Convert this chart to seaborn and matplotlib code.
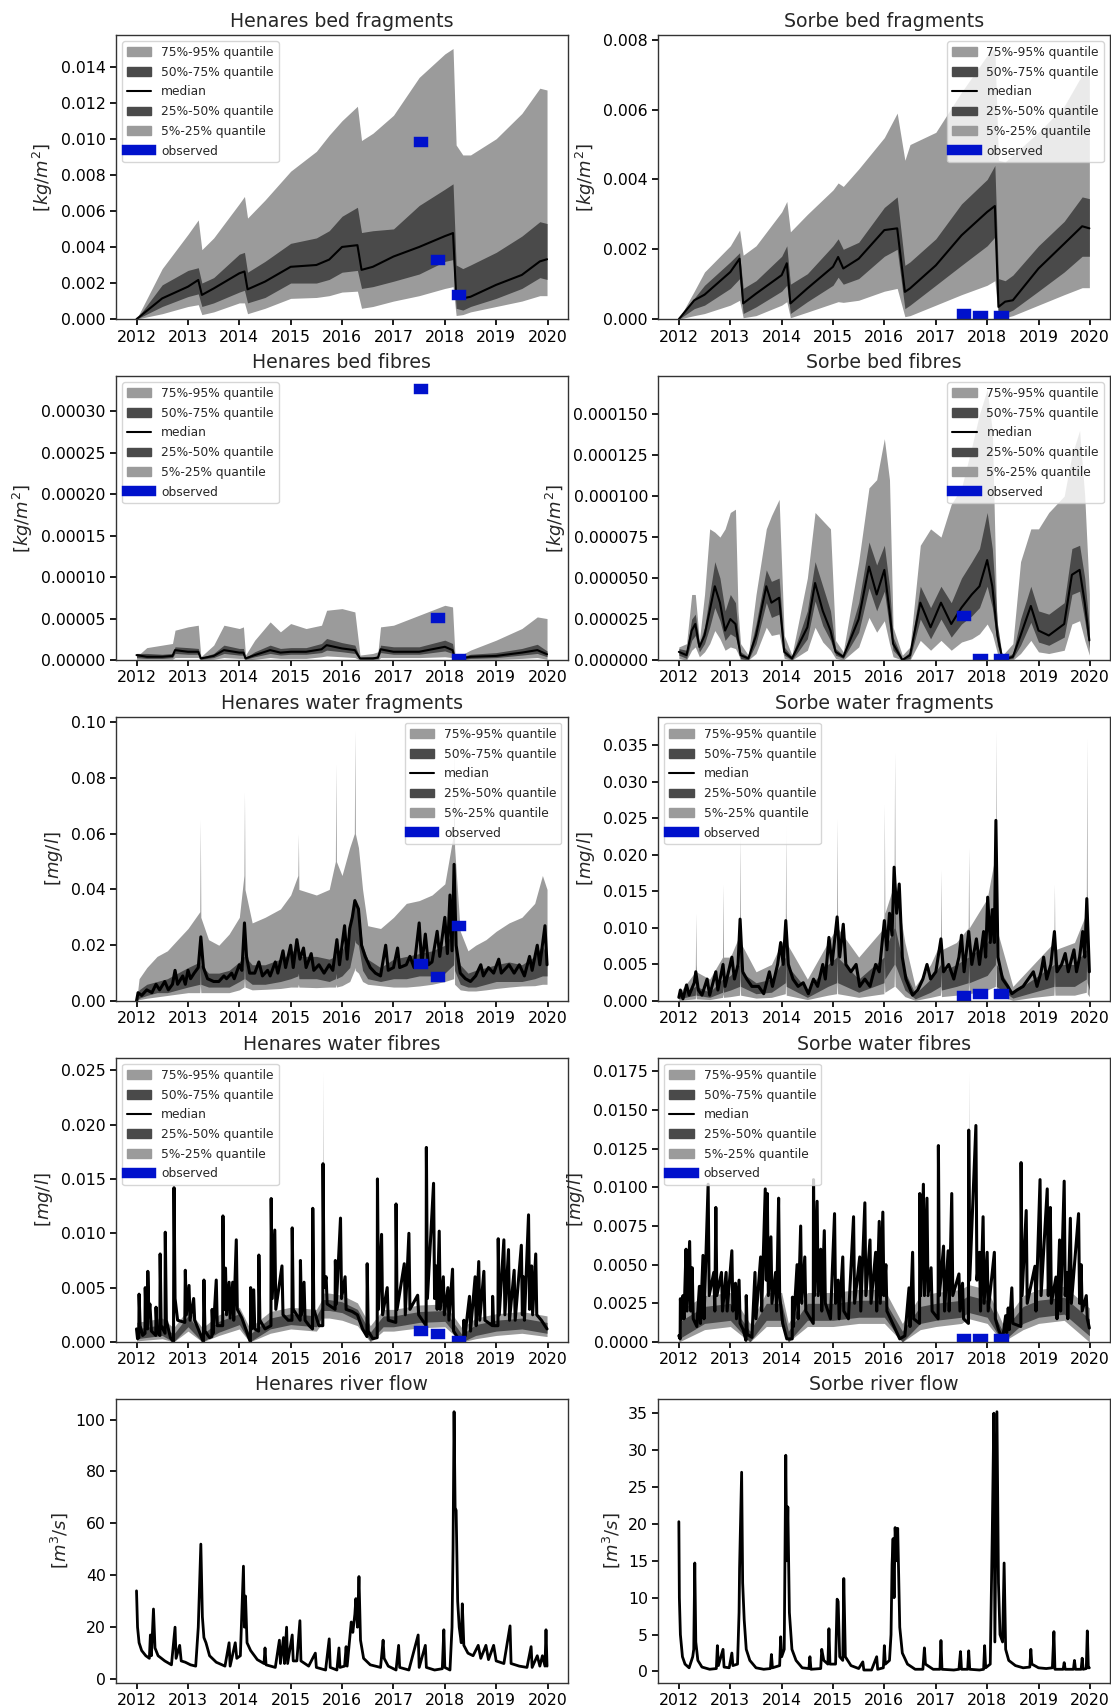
import numpy as np
import pandas as pd
import matplotlib
matplotlib.use("Agg")
import matplotlib.pyplot as plt
import matplotlib.dates as mdates
from matplotlib.ticker import MaxNLocator
from matplotlib.patches import Patch
from matplotlib.lines import Line2D
import seaborn as sns

# ---------------- data (decimal years) ----------------
obs_start = [2017.50, 2017.83, 2018.24]
obs_end = [2017.58, 2017.91, 2018.32]

# Henares bed fragments
hbfr_t = [2012.0, 2012.5, 2013.0, 2013.2, 2013.27, 2013.5, 2014.0, 2014.1, 2014.16, 2014.5,
          2015.0, 2015.5, 2015.75, 2016.0, 2016.3, 2016.38, 2016.6, 2017.0, 2017.5, 2018.0,
          2018.16, 2018.22, 2018.35, 2018.5, 2019.0, 2019.5, 2019.85, 2019.99]
hbfr_q50 = [0, 0.00115, 0.0018, 0.00217, 0.00134, 0.0017, 0.00254, 0.00264, 0.00165, 0.00208,
            0.0029, 0.003, 0.0033, 0.004, 0.0041, 0.00273, 0.0029, 0.00347, 0.004, 0.0046,
            0.00477, 0.0013, 0.00115, 0.00124, 0.0019, 0.00245, 0.0032, 0.00332]
hbfr_q95 = [0, 0.0028, 0.0047, 0.0055, 0.00385, 0.0045, 0.0064, 0.0068, 0.0056, 0.0066,
            0.0082, 0.0093, 0.0102, 0.011, 0.0118, 0.0099, 0.0103, 0.0113, 0.0134, 0.0147,
            0.015, 0.00965, 0.0091, 0.0091, 0.01, 0.0114, 0.0128, 0.0127]
hbfr_q75 = [0, 0.0019, 0.0027, 0.00285, 0.002, 0.0023, 0.0036, 0.0037, 0.0026, 0.0032,
            0.0042, 0.0045, 0.0049, 0.0057, 0.0062, 0.0048, 0.0049, 0.005, 0.0063, 0.0072,
            0.0075, 0.003, 0.0028, 0.003, 0.0037, 0.0046, 0.0054, 0.0053]
hbfr_q25 = [0, 0.0007, 0.00125, 0.0014, 0.0007, 0.0009, 0.0015, 0.0016, 0.0009, 0.0012,
            0.002, 0.002, 0.0022, 0.0026, 0.0027, 0.0017, 0.0018, 0.0021, 0.0025, 0.0032,
            0.0033, 0.0006, 0.0005, 0.0007, 0.00115, 0.0017, 0.0023, 0.0022]
hbfr_q05 = [0, 0.0003, 0.0007, 0.0008, 0.00025, 0.0004, 0.0009, 0.0009, 0.0003, 0.0006,
            0.00115, 0.0012, 0.0013, 0.0015, 0.00155, 0.0006, 0.0007, 0.001, 0.0013, 0.0017,
            0.0018, 0.0002, 0.00025, 0.0004, 0.0007, 0.001, 0.0013, 0.0013]
hbfr_obs = [0.0098, 0.0033, 0.00135]

# Sorbe bed fragments
sbfr_t = [2012.0, 2012.3, 2012.5, 2013.0, 2013.18, 2013.25, 2013.5, 2014.0, 2014.1, 2014.17,
          2014.5, 2015.0, 2015.1, 2015.2, 2015.5, 2016.0, 2016.25, 2016.4, 2016.5, 2017.0,
          2017.5, 2018.0, 2018.15, 2018.22, 2018.35, 2018.5, 2019.0, 2019.5, 2019.85, 2019.99]
sbfr_q50 = [0, 0.00054, 0.0007, 0.00135, 0.00173, 0.00045, 0.00073, 0.00126, 0.0016, 0.00045,
            0.00088, 0.0015, 0.00178, 0.00145, 0.00173, 0.00255, 0.0026, 0.00078, 0.00088, 0.00154,
            0.0024, 0.00307, 0.00324, 0.00035, 0.0005, 0.00054, 0.00145, 0.00216, 0.00266, 0.0026]
sbfr_q95 = [0, 0.0008, 0.00135, 0.0021, 0.00255, 0.00183, 0.0021, 0.00307, 0.00337, 0.0025,
            0.003, 0.0037, 0.0039, 0.0038, 0.0043, 0.0052, 0.0059, 0.00455, 0.005, 0.00535,
            0.0065, 0.00755, 0.00775, 0.00455, 0.0045, 0.0047, 0.00535, 0.0061, 0.007, 0.00703]
sbfr_q75 = [0, 0.0006, 0.00097, 0.00164, 0.0019, 0.00088, 0.0011, 0.0018, 0.0021, 0.001,
            0.0013, 0.0021, 0.0023, 0.002, 0.0022, 0.0032, 0.0035, 0.00154, 0.00164, 0.0023,
            0.0033, 0.004, 0.0044, 0.00116, 0.0011, 0.00126, 0.0021, 0.0028, 0.0035, 0.00345]
sbfr_q25 = [0, 0.0003, 0.0004, 0.00088, 0.00116, 0.00016, 0.00035, 0.0008, 0.00097, 0.00016,
            0.0005, 0.00097, 0.0012, 0.001, 0.00116, 0.0018, 0.002, 0.0003, 0.0004, 0.00097,
            0.00154, 0.0021, 0.00235, 0.0001, 0.00016, 0.00026, 0.0008, 0.00135, 0.0018, 0.0018]
sbfr_q05 = [0, 0.0001, 0.00016, 0.0004, 0.00054, 0.00004, 0.0001, 0.0004, 0.0005, 0.00004,
            0.0002, 0.00045, 0.0005, 0.00048, 0.00054, 0.0008, 0.00088, 0.00007, 0.0001, 0.0004,
            0.0007, 0.00097, 0.0011, 0.00002, 0.00004, 0.0001, 0.0004, 0.0007, 0.0009, 0.0009]
sbfr_obs = [0.00015, 0.0001, 0.0001]

# Henares bed fibres
hbfi_t = [2012.0, 2012.2, 2012.5, 2012.7, 2012.75, 2013.0, 2013.2, 2013.25, 2013.5, 2013.7,
          2014.0, 2014.08, 2014.12, 2014.3, 2014.6, 2014.8, 2015.0, 2015.3, 2015.6, 2015.7,
          2016.0, 2016.25, 2016.35, 2016.6, 2016.7, 2016.75, 2017.0, 2017.5, 2018.0, 2018.15,
          2018.2, 2018.5, 2019.0, 2019.5, 2019.8, 2019.99]
hbfi_q95 = [0.000004, 0.000015, 0.000018, 0.00002, 0.000036, 0.00004, 0.000042, 0.000004, 0.000018, 0.000042,
            0.000038, 0.00004, 0.000006, 0.000024, 0.000046, 0.000034, 0.000044, 0.000038, 0.000042, 0.00006,
            0.000062, 0.000058, 0.000006, 0.000008, 0.00001, 0.00004, 0.000042, 0.000054, 0.000066, 0.000064,
            0.000002, 0.000012, 0.000024, 0.000038, 0.000052, 0.00005]
hbfi_q75 = [0.000008, 0.000008, 0.000007, 0.000008, 0.000016, 0.000015, 0.000014, 0.000003, 0.000008, 0.000018,
            0.000014, 0.000014, 0.000003, 0.00001, 0.000018, 0.000014, 0.000015, 0.000015, 0.00002, 0.000026,
            0.000021, 0.000018, 0.000003, 0.000004, 0.000005, 0.000018, 0.000016, 0.000016, 0.000024, 0.00002,
            0.000002, 0.000007, 0.000009, 0.000014, 0.000019, 0.000011]
hbfi_q50 = [0.000006, 0.000004, 0.000004, 0.000005, 0.000012, 0.00001, 0.00001, 0.000002, 0.000005, 0.000012,
            0.000009, 0.000009, 0.000002, 0.000006, 0.000012, 0.000009, 0.00001, 0.00001, 0.000013, 0.000018,
            0.000014, 0.000012, 0.000002, 0.000002, 0.000003, 0.000013, 0.00001, 0.00001, 0.000016, 0.000012,
            0.000001, 0.000004, 0.000005, 0.000009, 0.000012, 0.000007]
hbfi_q25 = [0.000003, 0.000002, 0.000002, 0.000003, 0.000008, 0.000007, 0.000007, 0.000001, 0.000003, 0.000008,
            0.000006, 0.000006, 0.000001, 0.000004, 0.000008, 0.000006, 0.000007, 0.000007, 0.000009, 0.000012,
            0.00001, 0.000008, 0.000001, 0.000001, 0.000002, 0.000009, 0.000007, 0.000007, 0.000011, 0.000008,
            0.0, 0.000002, 0.000003, 0.000006, 0.000008, 0.000004]
hbfi_q05 = [0.000001, 0.000001, 0.000001, 0.000001, 0.000003, 0.000003, 0.000003, 0.0, 0.000001, 0.000003,
            0.000002, 0.000002, 0.0, 0.000001, 0.000003, 0.000002, 0.000002, 0.000002, 0.000004, 0.000005,
            0.000004, 0.000003, 0.0, 0.0, 0.0, 0.000003, 0.000003, 0.000003, 0.000004, 0.000003,
            0.0, 0.000001, 0.000001, 0.000002, 0.000003, 0.000001]
hbfi_obs = [0.000326, 0.000051, 0.000001]

# Sorbe bed fibres
sbfi_t = [2012.0, 2012.15, 2012.25, 2012.32, 2012.4, 2012.5, 2012.6, 2012.7, 2012.8, 2012.9,
          2013.0, 2013.1, 2013.15, 2013.2, 2013.35, 2013.5, 2013.7, 2013.8, 2013.95,
          2014.05, 2014.2, 2014.5, 2014.65, 2014.8, 2014.95,
          2015.05, 2015.2, 2015.5, 2015.7, 2015.85,
          2016.0, 2016.1, 2016.17, 2016.35, 2016.5, 2016.7, 2016.9,
          2017.1, 2017.3, 2017.5, 2017.7, 2017.85,
          2018.0, 2018.1, 2018.2, 2018.3, 2018.5, 2018.65, 2018.85,
          2019.0, 2019.2, 2019.5, 2019.65, 2019.8, 2019.9, 2019.99]
sbfi_q50 = [0.000005, 0.000003, 0.000018, 0.000022, 0.000008, 0.000015, 0.00003, 0.000045, 0.000035, 0.000018,
            0.000025, 0.000022, 0.000012, 0.000003, 0.000001, 0.000015, 0.000045, 0.000035, 0.000038,
            0.000005, 0.000001, 0.00002, 0.000047, 0.00003, 0.000018,
            0.000005, 0.000002, 0.000025, 0.000057, 0.00004,
            0.000055, 0.00003, 0.00001, 0.0, 0.000003, 0.000035, 0.00002,
            0.000035, 0.000022, 0.000032, 0.00004, 0.000045,
            0.000061, 0.000045, 0.000015, 0.0, 0.000002, 0.000015, 0.000033,
            0.000018, 0.000015, 0.000022, 0.000052, 0.000055, 0.000035, 0.000012]
sbfi_q95 = [0.000008, 0.00001, 0.00004, 0.00004, 0.000012, 0.00004, 0.00008, 0.000078, 0.000075, 0.00008,
            0.00009, 0.000092, 0.00003, 0.00001, 0.000003, 0.00004, 0.00008, 0.000088, 0.000098,
            0.000015, 0.000003, 0.00005, 0.00009, 0.000085, 0.00008,
            0.000012, 0.000005, 0.00006, 0.000105, 0.00011,
            0.000135, 0.00011, 0.00002, 0.000003, 0.000008, 0.00007, 0.00008,
            0.000075, 0.000095, 0.000105, 0.00013, 0.00015,
            0.000165, 0.00014, 0.00001, 0.000003, 0.00001, 0.00006, 0.00008,
            0.00008, 0.00009, 0.0001, 0.000125, 0.00014, 0.0001, 0.00004]
sbfi_q75 = [0.000007, 0.000006, 0.000025, 0.000028, 0.00001, 0.00002, 0.00004, 0.00006, 0.00005, 0.00003,
            0.00004, 0.000035, 0.000018, 0.000005, 0.000002, 0.000022, 0.000055, 0.000048, 0.00005,
            0.000008, 0.000002, 0.00003, 0.00006, 0.000045, 0.00003,
            0.000007, 0.000003, 0.000035, 0.000072, 0.000058,
            0.00007, 0.000045, 0.000014, 0.000001, 0.000005, 0.000045, 0.000032,
            0.000045, 0.000035, 0.00005, 0.00006, 0.000068,
            0.00009, 0.000068, 0.000022, 0.000001, 0.000004, 0.000025, 0.000045,
            0.00003, 0.000028, 0.000035, 0.000068, 0.00007, 0.00005, 0.00002]
sbfi_q25 = [0.000003, 0.000001, 0.000012, 0.000015, 0.000005, 0.00001, 0.00002, 0.000032, 0.000024, 0.000012,
            0.000016, 0.000014, 0.000008, 0.000001, 0.0, 0.00001, 0.000035, 0.000026, 0.000028,
            0.000003, 0.0, 0.000013, 0.000036, 0.000021, 0.000012,
            0.000003, 0.000001, 0.000017, 0.000044, 0.00003,
            0.000042, 0.00002, 0.000006, 0.0, 0.000001, 0.000025, 0.000013,
            0.000025, 0.000014, 0.000022, 0.000027, 0.000032,
            0.000045, 0.000032, 0.000009, 0.0, 0.000001, 0.000009, 0.000023,
            0.000011, 0.000009, 0.000014, 0.00004, 0.000042, 0.000024, 0.000007]
sbfi_q05 = [0.000001, 0.0, 0.000006, 0.000008, 0.000002, 0.000005, 0.00001, 0.000018, 0.000013, 0.000006,
            0.000008, 0.000007, 0.000004, 0.0, 0.0, 0.000004, 0.00002, 0.000015, 0.000016,
            0.000001, 0.0, 0.000006, 0.00002, 0.000011, 0.000006,
            0.000001, 0.0, 0.000008, 0.000026, 0.000017,
            0.000024, 0.00001, 0.000002, 0.0, 0.0, 0.000012, 0.000006,
            0.000012, 0.000006, 0.000011, 0.000013, 0.000016,
            0.000022, 0.000016, 0.000004, 0.0, 0.0, 0.000004, 0.000012,
            0.000005, 0.000004, 0.000006, 0.000022, 0.000024, 0.000012, 0.000003]
sbfi_obs = [0.0000266, 0.0000005, 0.0000005]

# Henares water fragments
hwfr_t = [2012.0, 2012.05, 2012.2, 2012.4, 2012.6, 2012.8, 2013.0, 2013.23, 2013.24, 2013.25,
          2013.4, 2013.6, 2013.8, 2014.0, 2014.09, 2014.1, 2014.11, 2014.25, 2014.5, 2014.8,
          2015.0, 2015.14, 2015.15, 2015.16, 2015.5, 2015.75, 2015.87, 2015.88, 2015.89, 2016.0,
          2016.15, 2016.24, 2016.25, 2016.26, 2016.32, 2016.4, 2016.5, 2016.75, 2017.0, 2017.25,
          2017.5, 2017.75, 2018.0, 2018.17, 2018.18, 2018.19, 2018.3, 2018.45, 2018.6, 2018.8,
          2019.0, 2019.25, 2019.5, 2019.75, 2019.9, 2019.99]
hwfr_q95 = [0, 0.008, 0.012, 0.016, 0.018, 0.022, 0.026, 0.032, 0.065, 0.03,
            0.022, 0.02, 0.024, 0.03, 0.045, 0.075, 0.04, 0.028, 0.03, 0.033,
            0.038, 0.045, 0.06, 0.04, 0.038, 0.04, 0.05, 0.085, 0.05, 0.045,
            0.055, 0.06, 0.097, 0.06, 0.055, 0.04, 0.027, 0.026, 0.03, 0.035,
            0.036, 0.038, 0.042, 0.06, 0.092, 0.055, 0.025, 0.018, 0.02, 0.022,
            0.025, 0.028, 0.03, 0.035, 0.045, 0.04]
hwfr_q75 = [0, 0.004, 0.006, 0.007, 0.008, 0.01, 0.012, 0.014, 0.024, 0.013,
            0.01, 0.01, 0.011, 0.014, 0.016, 0.028, 0.016, 0.013, 0.013, 0.015,
            0.017, 0.02, 0.02, 0.016, 0.016, 0.015, 0.016, 0.02, 0.016, 0.018,
            0.025, 0.035, 0.037, 0.036, 0.033, 0.02, 0.015, 0.012, 0.015, 0.016,
            0.017, 0.018, 0.02, 0.025, 0.05, 0.022, 0.013, 0.01, 0.011, 0.012,
            0.013, 0.014, 0.013, 0.016, 0.02, 0.016]
hwfr_q25 = [0, 0.001, 0.002, 0.003, 0.003, 0.004, 0.005, 0.006, 0.012, 0.006,
            0.005, 0.005, 0.005, 0.007, 0.008, 0.015, 0.008, 0.006, 0.006, 0.007,
            0.008, 0.009, 0.01, 0.008, 0.008, 0.007, 0.008, 0.01, 0.008, 0.009,
            0.012, 0.02, 0.022, 0.021, 0.02, 0.011, 0.008, 0.007, 0.008, 0.008,
            0.009, 0.009, 0.01, 0.013, 0.03, 0.011, 0.006, 0.005, 0.005, 0.006,
            0.007, 0.007, 0.007, 0.008, 0.009, 0.009]
hwfr_q05 = [0, 0.0005, 0.001, 0.0015, 0.002, 0.0025, 0.003, 0.003, 0.006, 0.003,
            0.003, 0.003, 0.003, 0.004, 0.005, 0.008, 0.005, 0.004, 0.0042, 0.0045,
            0.005, 0.005, 0.006, 0.005, 0.0048, 0.005, 0.005, 0.006, 0.005, 0.0055,
            0.007, 0.011, 0.012, 0.011, 0.01, 0.007, 0.006, 0.0055, 0.005, 0.005,
            0.0054, 0.006, 0.007, 0.008, 0.015, 0.006, 0.004, 0.0036, 0.0036, 0.004,
            0.0045, 0.005, 0.0054, 0.0055, 0.006, 0.006]
hwfr_median = [
    (2012.0, 0.0), (2012.03, 0.003), (2012.1, 0.002), (2012.2, 0.004), (2012.3, 0.003),
    (2012.38, 0.006), (2012.45, 0.004), (2012.55, 0.007), (2012.62, 0.004), (2012.7, 0.006),
    (2012.75, 0.011), (2012.8, 0.006), (2012.9, 0.009), (2012.95, 0.006), (2013.0, 0.011),
    (2013.05, 0.008), (2013.12, 0.01), (2013.2, 0.012), (2013.25, 0.023), (2013.3, 0.012),
    (2013.38, 0.008), (2013.5, 0.007), (2013.6, 0.007), (2013.7, 0.009), (2013.75, 0.008),
    (2013.85, 0.01), (2013.9, 0.008), (2014.0, 0.013), (2014.05, 0.011), (2014.1, 0.028),
    (2014.14, 0.016), (2014.2, 0.01), (2014.3, 0.01), (2014.38, 0.014), (2014.45, 0.009),
    (2014.55, 0.011), (2014.6, 0.009), (2014.7, 0.014), (2014.75, 0.01), (2014.85, 0.018),
    (2014.9, 0.012), (2015.0, 0.02), (2015.05, 0.012), (2015.12, 0.022), (2015.18, 0.015),
    (2015.25, 0.019), (2015.3, 0.012), (2015.4, 0.017), (2015.45, 0.011), (2015.55, 0.013),
    (2015.65, 0.01), (2015.75, 0.013), (2015.82, 0.011), (2015.9, 0.022), (2015.95, 0.013),
    (2016.05, 0.027), (2016.1, 0.015), (2016.15, 0.026), (2016.2, 0.03), (2016.25, 0.036),
    (2016.32, 0.033), (2016.38, 0.02), (2016.45, 0.016), (2016.55, 0.012), (2016.65, 0.01),
    (2016.75, 0.009), (2016.85, 0.02), (2016.9, 0.011), (2017.0, 0.012), (2017.08, 0.019),
    (2017.12, 0.012), (2017.25, 0.013), (2017.32, 0.016), (2017.4, 0.012), (2017.5, 0.028),
    (2017.55, 0.013), (2017.62, 0.024), (2017.68, 0.013), (2017.75, 0.014), (2017.85, 0.025),
    (2017.9, 0.016), (2018.0, 0.03), (2018.05, 0.017), (2018.1, 0.038), (2018.14, 0.018),
    (2018.18, 0.049), (2018.22, 0.02), (2018.3, 0.01), (2018.4, 0.008), (2018.5, 0.007),
    (2018.6, 0.009), (2018.7, 0.013), (2018.75, 0.009), (2018.85, 0.012), (2018.95, 0.01),
    (2019.05, 0.015), (2019.1, 0.01), (2019.25, 0.013), (2019.35, 0.01), (2019.45, 0.013),
    (2019.55, 0.009), (2019.65, 0.016), (2019.7, 0.011), (2019.8, 0.02), (2019.85, 0.013),
    (2019.95, 0.027), (2019.99, 0.013),
]
hwfr_obs = [0.0131, 0.0087, 0.0268]

# Sorbe water fragments
swfr_t = [2012.0, 2012.32, 2012.33, 2012.34, 2012.6, 2012.85, 2012.86, 2012.87, 2013.0, 2013.18,
          2013.19, 2013.2, 2013.5, 2013.8, 2014.07, 2014.08, 2014.09, 2014.5, 2014.9, 2015.07,
          2015.08, 2015.09, 2015.5, 2015.99, 2016.0, 2016.01, 2016.19, 2016.2, 2016.21, 2016.4,
          2016.6, 2016.9, 2017.09, 2017.1, 2017.11, 2017.4, 2017.63, 2017.64, 2017.65, 2018.0,
          2018.16, 2018.17, 2018.18, 2018.5, 2018.9, 2019.3, 2019.31, 2019.32, 2019.7, 2019.93,
          2019.94, 2019.95, 2019.99]
swfr_q95 = [0.001, 0.004, 0.012, 0.004, 0.003, 0.006, 0.016, 0.006, 0.006, 0.009,
            0.023, 0.008, 0.004, 0.005, 0.009, 0.024, 0.008, 0.003, 0.008, 0.01,
            0.025, 0.01, 0.006, 0.01, 0.027, 0.012, 0.016, 0.034, 0.016, 0.008,
            0.002, 0.005, 0.008, 0.018, 0.007, 0.008, 0.01, 0.021, 0.01, 0.014,
            0.02, 0.037, 0.01, 0.002, 0.005, 0.008, 0.016, 0.007, 0.008, 0.012,
            0.036, 0.012, 0.006]
swfr_q75 = [0.0008, 0.002, 0.005, 0.002, 0.0012, 0.003, 0.006, 0.003, 0.0035, 0.005,
            0.012, 0.004, 0.0025, 0.003, 0.006, 0.012, 0.005, 0.0015, 0.005, 0.006,
            0.012, 0.006, 0.003, 0.006, 0.012, 0.007, 0.01, 0.019, 0.01, 0.004,
            0.001, 0.003, 0.005, 0.009, 0.004, 0.005, 0.006, 0.01, 0.006, 0.008,
            0.01, 0.025, 0.005, 0.0012, 0.003, 0.005, 0.01, 0.005, 0.005, 0.007,
            0.015, 0.006, 0.004]
swfr_q25 = [0.0003, 0.0008, 0.002, 0.0008, 0.0005, 0.0012, 0.002, 0.0012, 0.0015, 0.002,
            0.006, 0.002, 0.001, 0.0012, 0.0025, 0.006, 0.002, 0.0005, 0.002, 0.0025,
            0.006, 0.0025, 0.0012, 0.0025, 0.006, 0.003, 0.005, 0.01, 0.005, 0.0015,
            0.0003, 0.0012, 0.002, 0.004, 0.0015, 0.002, 0.0025, 0.005, 0.0025, 0.0035,
            0.005, 0.012, 0.002, 0.0004, 0.0012, 0.002, 0.005, 0.002, 0.002, 0.003,
            0.007, 0.0025, 0.0015]
swfr_q05 = [0.0001, 0.0003, 0.001, 0.0003, 0.0002, 0.0005, 0.001, 0.0005, 0.0006, 0.0008,
            0.003, 0.0008, 0.0004, 0.0005, 0.001, 0.003, 0.0008, 0.0002, 0.0008, 0.001,
            0.003, 0.001, 0.0005, 0.001, 0.003, 0.0012, 0.002, 0.005, 0.002, 0.0006,
            0.0001, 0.0005, 0.0008, 0.002, 0.0006, 0.0008, 0.001, 0.0025, 0.001, 0.0015,
            0.002, 0.006, 0.0008, 0.0001, 0.0005, 0.0008, 0.0025, 0.0008, 0.0008, 0.0012,
            0.0035, 0.001, 0.0006]
swfr_median = [
    (2012.0, 0.0005), (2012.03, 0.0015), (2012.08, 0.0003), (2012.15, 0.0022), (2012.2, 0.0008),
    (2012.3, 0.0025), (2012.33, 0.004), (2012.38, 0.0015), (2012.45, 0.0008), (2012.55, 0.003),
    (2012.6, 0.0008), (2012.72, 0.004), (2012.76, 0.0015), (2012.86, 0.005), (2012.9, 0.002),
    (2013.03, 0.006), (2013.08, 0.003), (2013.15, 0.005), (2013.19, 0.0112), (2013.24, 0.004),
    (2013.32, 0.003), (2013.42, 0.002), (2013.55, 0.002), (2013.65, 0.001), (2013.76, 0.004),
    (2013.82, 0.002), (2013.92, 0.005), (2013.98, 0.008), (2014.03, 0.005), (2014.08, 0.011),
    (2014.13, 0.005), (2014.22, 0.003), (2014.32, 0.002), (2014.42, 0.0025), (2014.52, 0.001),
    (2014.62, 0.003), (2014.7, 0.002), (2014.8, 0.005), (2014.85, 0.003), (2014.92, 0.0087),
    (2014.98, 0.005), (2015.08, 0.0115), (2015.13, 0.006), (2015.2, 0.0105), (2015.25, 0.005),
    (2015.35, 0.004), (2015.45, 0.005), (2015.52, 0.002), (2015.62, 0.003), (2015.72, 0.002),
    (2015.83, 0.005), (2015.9, 0.004), (2016.0, 0.011), (2016.05, 0.007), (2016.1, 0.012),
    (2016.15, 0.009), (2016.19, 0.0183), (2016.24, 0.012), (2016.29, 0.016), (2016.35, 0.006),
    (2016.42, 0.003), (2016.55, 0.0008), (2016.65, 0.0015), (2016.75, 0.003), (2016.83, 0.005),
    (2016.9, 0.003), (2017.0, 0.004), (2017.1, 0.0085), (2017.15, 0.004), (2017.25, 0.005),
    (2017.35, 0.003), (2017.45, 0.006), (2017.5, 0.009), (2017.55, 0.004), (2017.64, 0.0095),
    (2017.7, 0.005), (2017.79, 0.0085), (2017.85, 0.005), (2017.93, 0.0095), (2017.97, 0.006),
    (2018.01, 0.0142), (2018.06, 0.008), (2018.1, 0.0125), (2018.14, 0.008), (2018.17, 0.0247),
    (2018.21, 0.006), (2018.3, 0.003), (2018.4, 0.002), (2018.48, 0.001), (2018.58, 0.0015),
    (2018.7, 0.002), (2018.8, 0.003), (2018.9, 0.004), (2018.97, 0.002), (2019.05, 0.004),
    (2019.1, 0.006), (2019.16, 0.003), (2019.24, 0.005), (2019.31, 0.0095), (2019.36, 0.004),
    (2019.45, 0.005), (2019.52, 0.0065), (2019.58, 0.004), (2019.69, 0.007), (2019.74, 0.004),
    (2019.8, 0.006), (2019.86, 0.0095), (2019.9, 0.006), (2019.94, 0.014), (2019.99, 0.004),
]
swfr_obs = [0.0007, 0.001, 0.0009]

# Henares water fibres
hwfi_t = [2012.0, 2012.5, 2012.72, 2013.0, 2013.28, 2013.6, 2014.0, 2014.2, 2014.6, 2015.0,
          2015.5, 2015.62, 2015.63, 2015.64, 2015.75, 2016.0, 2016.3, 2016.55, 2016.8, 2017.0,
          2017.5, 2018.0, 2018.33, 2018.6, 2019.0, 2019.5, 2019.99]
hwfi_q95 = [0.0018, 0.0022, 0.0013, 0.003, 0.0013, 0.0025, 0.0032, 0.0013, 0.0028, 0.0032,
            0.003, 0.004, 0.0249, 0.0045, 0.0045, 0.0043, 0.0036, 0.0015, 0.003, 0.003,
            0.0034, 0.0035, 0.0013, 0.0022, 0.0026, 0.0028, 0.0024]
hwfi_q75 = [0.0012, 0.0016, 0.0007, 0.0024, 0.0007, 0.0019, 0.0026, 0.0007, 0.0022, 0.0026,
            0.0024, 0.0034, 0.0039, 0.0039, 0.0039, 0.0037, 0.003, 0.0009, 0.0024, 0.0024,
            0.0028, 0.0029, 0.0007, 0.0016, 0.002, 0.0022, 0.0018]
hwfi_q25 = [0.0003, 0.0006, 0.0, 0.0014, 0.0, 0.0009, 0.0016, 0.0, 0.0012, 0.0016,
            0.0014, 0.0024, 0.0029, 0.0029, 0.0029, 0.0027, 0.002, 0.0001, 0.0014, 0.0014,
            0.0018, 0.0019, 0.0, 0.0006, 0.001, 0.0012, 0.0008]
hwfi_q05 = [0.0001, 0.0003, 0.0, 0.001, 0.0, 0.0006, 0.0012, 0.0, 0.0008, 0.0012,
            0.001, 0.0018, 0.0022, 0.0022, 0.0022, 0.002, 0.0015, 0.0, 0.001, 0.001,
            0.0013, 0.0014, 0.0, 0.0003, 0.0006, 0.0008, 0.0005]
hwfi_median = [
    (2012.0, 0.0012), (2012.02, 0.0003), (2012.045, 0.0004), (2012.05, 0.0044), (2012.07, 0.0015),
    (2012.12, 0.0006), (2012.165, 0.0008), (2012.17, 0.005), (2012.19, 0.0015), (2012.215, 0.0012),
    (2012.22, 0.0065), (2012.24, 0.0025), (2012.26, 0.0035), (2012.29, 0.001), (2012.375, 0.0006),
    (2012.38, 0.0032), (2012.4, 0.001), (2012.455, 0.0006), (2012.46, 0.0081), (2012.48, 0.0015),
    (2012.555, 0.0008), (2012.56, 0.0101), (2012.58, 0.002), (2012.66, 0.0004), (2012.72, 0.0),
    (2012.73, 0.0142), (2012.75, 0.004), (2012.8, 0.002), (2012.94, 0.0018), (2012.95, 0.0066),
    (2012.97, 0.0025), (2013.02, 0.0052), (2013.04, 0.002), (2013.11, 0.004), (2013.13, 0.002),
    (2013.2, 0.0012), (2013.3, 0.0), (2013.31, 0.0057), (2013.33, 0.001), (2013.42, 0.0004),
    (2013.465, 0.0005), (2013.47, 0.003), (2013.49, 0.0008), (2013.55, 0.0057), (2013.57, 0.0015),
    (2013.675, 0.0015), (2013.68, 0.0116), (2013.7, 0.003), (2013.73, 0.0068), (2013.75, 0.0025),
    (2013.8, 0.0055), (2013.82, 0.0022), (2013.87, 0.0055), (2013.89, 0.002), (2013.94, 0.0094),
    (2013.96, 0.003), (2014.05, 0.0022), (2014.14, 0.001), (2014.215, 0.0), (2014.22, 0.005),
    (2014.24, 0.0012), (2014.28, 0.0048), (2014.3, 0.0012), (2014.375, 0.001), (2014.38, 0.008),
    (2014.4, 0.002), (2014.5, 0.0012), (2014.615, 0.0015), (2014.62, 0.0132), (2014.64, 0.004),
    (2014.69, 0.0103), (2014.71, 0.003), (2014.83, 0.007), (2014.85, 0.0025), (2014.95, 0.002),
    (2015.025, 0.002), (2015.03, 0.0105), (2015.05, 0.003), (2015.185, 0.002), (2015.19, 0.0075),
    (2015.21, 0.0025), (2015.26, 0.0055), (2015.28, 0.002), (2015.36, 0.0015), (2015.425, 0.0012),
    (2015.43, 0.0123), (2015.45, 0.003), (2015.55, 0.0015), (2015.625, 0.0015), (2015.63, 0.0164),
    (2015.65, 0.005), (2015.69, 0.006), (2015.71, 0.0035), (2015.865, 0.003), (2015.87, 0.0075),
    (2015.89, 0.0035), (2015.97, 0.0114), (2015.99, 0.004), (2016.06, 0.006), (2016.08, 0.003),
    (2016.2, 0.0028), (2016.3, 0.0025), (2016.4, 0.0012), (2016.485, 0.0005), (2016.49, 0.0072),
    (2016.51, 0.001), (2016.6, 0.0003), (2016.685, 0.0004), (2016.69, 0.015), (2016.71, 0.003),
    (2016.77, 0.0099), (2016.79, 0.0025), (2016.88, 0.005), (2016.9, 0.002), (2017.045, 0.0018),
    (2017.05, 0.0127), (2017.07, 0.003), (2017.21, 0.0072), (2017.23, 0.0025), (2017.3, 0.01),
    (2017.32, 0.003), (2017.47, 0.0043), (2017.49, 0.0025), (2017.635, 0.0015), (2017.64, 0.0179),
    (2017.66, 0.004), (2017.78, 0.0146), (2017.8, 0.004), (2017.83, 0.007), (2017.85, 0.003),
    (2017.89, 0.0102), (2017.91, 0.003), (2017.97, 0.006), (2017.99, 0.0025), (2018.06, 0.005),
    (2018.08, 0.002), (2018.15, 0.0067), (2018.17, 0.001), (2018.25, 0.0004), (2018.365, 0.0),
    (2018.37, 0.002), (2018.39, 0.0005), (2018.48, 0.0042), (2018.5, 0.001), (2018.59, 0.006),
    (2018.61, 0.0015), (2018.66, 0.0074), (2018.68, 0.002), (2018.76, 0.0065), (2018.78, 0.002),
    (2018.925, 0.0015), (2018.93, 0.0042), (2018.95, 0.0015), (2019.035, 0.0015), (2019.04, 0.0095),
    (2019.06, 0.0025), (2019.15, 0.0094), (2019.17, 0.0025), (2019.24, 0.0085), (2019.26, 0.002),
    (2019.35, 0.0066), (2019.37, 0.002), (2019.49, 0.0089), (2019.51, 0.0025), (2019.53, 0.006),
    (2019.55, 0.002), (2019.63, 0.0117), (2019.65, 0.003), (2019.69, 0.007), (2019.71, 0.0025),
    (2019.77, 0.0081), (2019.79, 0.0025), (2019.88, 0.002), (2019.99, 0.0012),
]
hwfi_obs = [0.001, 0.0007, 0.0001]

# Sorbe water fibres
swfi_t = [2012.0, 2012.5, 2013.0, 2013.38, 2013.7, 2014.0, 2014.13, 2014.5, 2015.0, 2015.5,
          2016.0, 2016.35, 2016.7, 2017.0, 2017.5, 2017.63, 2017.64, 2017.65, 2018.0, 2018.3,
          2018.7, 2019.0, 2019.5, 2019.99]
swfi_q95 = [0.002, 0.003, 0.0032, 0.0012, 0.0032, 0.0032, 0.0012, 0.0032, 0.0032, 0.0034,
            0.0034, 0.0012, 0.003, 0.0032, 0.0034, 0.0037, 0.0175, 0.0037, 0.0034, 0.0012,
            0.003, 0.0034, 0.0036, 0.0022]
swfi_q75 = [0.0013, 0.0023, 0.0025, 0.0007, 0.0025, 0.0025, 0.0007, 0.0025, 0.0025, 0.0027,
            0.0027, 0.0007, 0.0023, 0.0025, 0.0027, 0.003, 0.003, 0.003, 0.0027, 0.0007,
            0.0023, 0.0027, 0.0029, 0.0015]
swfi_q25 = [0.0002, 0.0012, 0.0014, 0.0, 0.0014, 0.0014, 0.0, 0.0014, 0.0014, 0.0016,
            0.0016, 0.0, 0.0012, 0.0014, 0.0016, 0.0019, 0.0019, 0.0019, 0.0016, 0.0,
            0.0012, 0.0016, 0.0018, 0.0004]
swfi_q05 = [0.0, 0.0008, 0.001, 0.0, 0.001, 0.001, 0.0, 0.001, 0.001, 0.0012,
            0.0012, 0.0, 0.0008, 0.001, 0.0012, 0.0015, 0.0015, 0.0015, 0.0012, 0.0,
            0.0008, 0.0012, 0.0014, 0.0]
swfi_median = [
    (2012.0, 0.0004), (2012.025, 0.0002), (2012.03, 0.0028), (2012.05, 0.0015), (2012.08, 0.003),
    (2012.1, 0.0015), (2012.14, 0.006), (2012.16, 0.002), (2012.21, 0.0065), (2012.23, 0.002),
    (2012.26, 0.0048), (2012.28, 0.0015), (2012.35, 0.001), (2012.4, 0.0036), (2012.42, 0.0012),
    (2012.47, 0.0056), (2012.49, 0.0015), (2012.57, 0.0102), (2012.59, 0.003), (2012.68, 0.0045),
    (2012.7, 0.002), (2012.72, 0.0087), (2012.74, 0.003), (2012.83, 0.0045), (2012.85, 0.002),
    (2012.92, 0.0045), (2012.94, 0.002), (2013.03, 0.0059), (2013.05, 0.002), (2013.1, 0.0038),
    (2013.12, 0.0015), (2013.17, 0.004), (2013.19, 0.0012), (2013.25, 0.0008), (2013.305, 0.0001),
    (2013.31, 0.003), (2013.33, 0.0005), (2013.42, 0.0003), (2013.48, 0.0045), (2013.5, 0.0015),
    (2013.59, 0.0055), (2013.61, 0.002), (2013.68, 0.0099), (2013.7, 0.004), (2013.72, 0.0096),
    (2013.74, 0.003), (2013.79, 0.0068), (2013.81, 0.0025), (2013.88, 0.0045), (2013.9, 0.002),
    (2013.94, 0.0093), (2013.96, 0.003), (2014.02, 0.0012), (2014.1, 0.0002), (2014.205, 0.0002),
    (2014.21, 0.0029), (2014.23, 0.001), (2014.3, 0.005), (2014.32, 0.0015), (2014.37, 0.0075),
    (2014.39, 0.0025), (2014.45, 0.0055), (2014.47, 0.002), (2014.615, 0.0012), (2014.62, 0.0105),
    (2014.64, 0.003), (2014.69, 0.0091), (2014.71, 0.003), (2014.76, 0.006), (2014.78, 0.002),
    (2014.83, 0.0072), (2014.85, 0.0025), (2014.95, 0.0015), (2015.03, 0.0083), (2015.05, 0.0025),
    (2015.1, 0.004), (2015.12, 0.0015), (2015.19, 0.0055), (2015.21, 0.002), (2015.3, 0.0015),
    (2015.4, 0.0081), (2015.42, 0.0025), (2015.52, 0.0055), (2015.54, 0.002), (2015.62, 0.009),
    (2015.64, 0.003), (2015.72, 0.0066), (2015.74, 0.0025), (2015.83, 0.0058), (2015.85, 0.002),
    (2015.9, 0.0078), (2015.92, 0.0025), (2015.97, 0.0084), (2015.99, 0.003), (2016.03, 0.005),
    (2016.05, 0.002), (2016.12, 0.0015), (2016.22, 0.0008), (2016.3, 0.0002), (2016.4, 0.0004),
    (2016.48, 0.0035), (2016.5, 0.001), (2016.55, 0.0058), (2016.57, 0.0015), (2016.685, 0.0012),
    (2016.69, 0.0096), (2016.71, 0.003), (2016.76, 0.0102), (2016.78, 0.003), (2016.83, 0.0093),
    (2016.85, 0.003), (2016.91, 0.0048), (2016.93, 0.002), (2017.045, 0.0015), (2017.05, 0.0127),
    (2017.07, 0.003), (2017.15, 0.0062), (2017.17, 0.002), (2017.24, 0.0059), (2017.26, 0.002),
    (2017.31, 0.0096), (2017.33, 0.003), (2017.45, 0.0044), (2017.47, 0.002), (2017.52, 0.0038),
    (2017.54, 0.0015), (2017.635, 0.0012), (2017.64, 0.0137), (2017.66, 0.004), (2017.78, 0.014),
    (2017.8, 0.004), (2017.85, 0.0058), (2017.87, 0.002), (2017.92, 0.0081), (2017.94, 0.0025),
    (2018.0, 0.0058), (2018.02, 0.002), (2018.14, 0.0058), (2018.16, 0.0015), (2018.22, 0.0008),
    (2018.3, 0.0002), (2018.36, 0.0017), (2018.38, 0.0006), (2018.41, 0.0022), (2018.43, 0.0008),
    (2018.48, 0.0035), (2018.5, 0.0012), (2018.655, 0.001), (2018.66, 0.0116), (2018.68, 0.003),
    (2018.76, 0.0085), (2018.78, 0.0025), (2018.93, 0.0049), (2018.95, 0.002), (2019.03, 0.0105),
    (2019.05, 0.003), (2019.17, 0.0099), (2019.19, 0.003), (2019.23, 0.0087), (2019.25, 0.0025),
    (2019.34, 0.0042), (2019.36, 0.0015), (2019.41, 0.0066), (2019.43, 0.002), (2019.5, 0.0104),
    (2019.52, 0.003), (2019.55, 0.0045), (2019.57, 0.0015), (2019.62, 0.008), (2019.64, 0.0025),
    (2019.78, 0.0083), (2019.8, 0.0025), (2019.83, 0.005), (2019.85, 0.002), (2019.93, 0.003),
    (2019.95, 0.0015), (2019.99, 0.0009),
]
swfi_obs = [0.0002, 0.0002, 0.0002]

# River flow [m3/s]
henares_flow = [
    (2012.0, 34), (2012.02, 20), (2012.05, 14), (2012.1, 11), (2012.18, 9), (2012.25, 8),
    (2012.27, 17), (2012.29, 9), (2012.33, 27), (2012.36, 12), (2012.42, 9), (2012.55, 7),
    (2012.68, 5.5), (2012.75, 20), (2012.77, 8), (2012.84, 13), (2012.87, 7), (2012.95, 6.5),
    (2013.05, 5.5), (2013.15, 5), (2013.2, 20), (2013.25, 52), (2013.28, 24), (2013.31, 16),
    (2013.35, 14), (2013.42, 9), (2013.55, 6.5), (2013.72, 5), (2013.8, 14), (2013.82, 5),
    (2013.92, 14), (2013.95, 8), (2014.02, 9), (2014.08, 43.5), (2014.1, 20), (2014.12, 32),
    (2014.15, 14), (2014.22, 11), (2014.35, 7.5), (2014.48, 6), (2014.5, 12), (2014.52, 5.5),
    (2014.7, 4.5), (2014.78, 15), (2014.8, 6), (2014.86, 16), (2014.88, 6), (2014.92, 20),
    (2014.94, 6), (2015.03, 17), (2015.05, 7), (2015.12, 7), (2015.18, 22.5), (2015.2, 7),
    (2015.35, 5), (2015.48, 10), (2015.5, 4.5), (2015.68, 3.5), (2015.75, 15.5), (2015.77, 4.5),
    (2015.9, 3.5), (2015.94, 12), (2015.96, 4.5), (2016.05, 5), (2016.08, 12.5), (2016.1, 5),
    (2016.18, 22), (2016.21, 18), (2016.25, 25), (2016.27, 31), (2016.3, 20), (2016.33, 39.5),
    (2016.36, 15), (2016.42, 8), (2016.55, 5.5), (2016.75, 4.5), (2016.8, 15), (2016.82, 8),
    (2016.9, 5), (2017.05, 3.5), (2017.1, 13), (2017.12, 4.5), (2017.3, 3.5), (2017.48, 17),
    (2017.5, 4.5), (2017.62, 13), (2017.64, 4.5), (2017.8, 3.5), (2017.95, 4), (2017.98, 19),
    (2018.0, 4.5), (2018.1, 3.5), (2018.14, 20), (2018.16, 50), (2018.18, 103), (2018.2, 66),
    (2018.22, 65), (2018.25, 30), (2018.28, 20), (2018.32, 14), (2018.34, 29), (2018.37, 13),
    (2018.45, 10), (2018.55, 9), (2018.65, 13), (2018.7, 8), (2018.8, 13), (2018.85, 7.5),
    (2018.95, 13), (2019.0, 7), (2019.15, 6), (2019.27, 20.5), (2019.29, 6), (2019.45, 5),
    (2019.6, 4.5), (2019.68, 12.5), (2019.7, 4.5), (2019.8, 9), (2019.85, 5), (2019.9, 9),
    (2019.95, 5), (2019.97, 19), (2019.99, 5),
]
sorbe_flow = [
    (2012.0, 20.3), (2012.01, 10), (2012.03, 5), (2012.07, 2), (2012.12, 1), (2012.2, 0.5),
    (2012.27, 2), (2012.29, 3), (2012.31, 14.7), (2012.33, 4), (2012.37, 1.5), (2012.45, 0.6),
    (2012.6, 0.3), (2012.73, 0.4), (2012.75, 3.5), (2012.77, 0.8), (2012.86, 3), (2012.88, 0.6),
    (2012.98, 0.5), (2013.03, 2.5), (2013.05, 0.8), (2013.14, 1), (2013.17, 8), (2013.18, 14),
    (2013.22, 27), (2013.24, 12), (2013.27, 7), (2013.31, 3), (2013.38, 1.5), (2013.5, 0.5),
    (2013.65, 0.3), (2013.78, 0.4), (2013.8, 2.3), (2013.82, 0.5), (2013.96, 0.8), (2013.98, 4.7),
    (2014.0, 2), (2014.05, 3), (2014.08, 29.3), (2014.1, 15), (2014.12, 22.3), (2014.15, 8),
    (2014.2, 3), (2014.28, 1.5), (2014.4, 0.5), (2014.53, 0.4), (2014.55, 2), (2014.57, 0.3),
    (2014.76, 0.4), (2014.78, 3), (2014.82, 1.5), (2014.9, 1), (2014.92, 5.8), (2014.94, 1),
    (2015.05, 1), (2015.08, 9.8), (2015.1, 9.5), (2015.13, 2), (2015.19, 1.5), (2015.21, 12.6),
    (2015.24, 2), (2015.35, 0.8), (2015.5, 0.4), (2015.58, 1.3), (2015.6, 0.2), (2015.75, 0.2),
    (2015.85, 2), (2015.87, 0.3), (2015.98, 0.5), (2016.0, 3.5), (2016.02, 1), (2016.1, 1.5),
    (2016.13, 5), (2016.15, 14.5), (2016.17, 18), (2016.19, 10), (2016.21, 19.5), (2016.24, 15),
    (2016.26, 19.4), (2016.3, 6), (2016.35, 2.5), (2016.45, 1), (2016.6, 0.3), (2016.75, 0.3),
    (2016.78, 3.2), (2016.8, 1), (2016.95, 0.3), (2017.08, 0.3), (2017.1, 4.2), (2017.12, 0.3),
    (2017.35, 0.2), (2017.45, 0.3), (2017.48, 2.7), (2017.5, 0.3), (2017.62, 0.3), (2017.64, 2.8),
    (2017.66, 0.3), (2017.85, 0.2), (2017.93, 0.3), (2017.95, 3.5), (2017.97, 0.5), (2018.06, 1),
    (2018.1, 19), (2018.13, 35), (2018.15, 4), (2018.17, 20), (2018.19, 35.2), (2018.22, 12),
    (2018.25, 5), (2018.3, 4), (2018.33, 14.7), (2018.36, 3), (2018.42, 1.5), (2018.55, 0.8),
    (2018.7, 0.5), (2018.83, 0.6), (2018.85, 3), (2018.87, 1), (2019.0, 0.5), (2019.15, 0.4),
    (2019.27, 0.5), (2019.3, 5.4), (2019.32, 0.3), (2019.48, 0.3), (2019.5, 1.2), (2019.52, 0.3),
    (2019.68, 0.3), (2019.7, 1.5), (2019.72, 0.3), (2019.83, 0.3), (2019.85, 1.8), (2019.87, 0.3),
    (2019.93, 0.4), (2019.95, 5.5), (2019.97, 0.5), (2019.99, 0.5),
]

LIGHT = "#9b9b9b"
DARK = "#4a4a4a"
BLUE = "#0011cc"


def to_dates(years):
    # decimal years -> timestamps
    years = np.asarray(years, dtype=float)
    whole = np.floor(years).astype(int)
    start = pd.to_datetime([f"{y}-01-01" for y in whole])
    return start + pd.to_timedelta((years - whole) * 365.25, unit="D")


def style_axes(ax):
    ax.xaxis.set_major_locator(mdates.YearLocator())
    ax.xaxis.set_major_formatter(mdates.DateFormatter("%Y"))
    ax.yaxis.set_major_locator(MaxNLocator(nbins=8, steps=[1, 2, 2.5, 5, 10]))
    ax.set_xlabel("")


def quantile_panel(ax, title, unit, t, q05, q25, q75, q95, med_t, med, obs, loc, med_lw=1.5):
    d = to_dates(t)
    # light band 5-95 first, dark 25-75 on top (no seams between bands)
    ax.fill_between(d, q05, q95, color=LIGHT, lw=0)
    ax.fill_between(d, q25, q75, color=DARK, lw=0)
    sns.lineplot(x=to_dates(med_t), y=list(med), ax=ax, color="black", lw=med_lw, estimator=None)
    for s, e, v in zip(obs_start, obs_end, obs):
        ax.plot(to_dates([s, e]), [v, v], color=BLUE, lw=7.5, solid_capstyle="projecting")
    ax.set_ylim(bottom=0)

    handles = [Patch(color=LIGHT), Patch(color=DARK), Line2D([], [], color="black", lw=1.5),
               Patch(color=DARK), Patch(color=LIGHT),
               Line2D([], [], color=BLUE, lw=7.5, solid_capstyle="projecting")]
    labels = ["75%-95% quantile", "50%-75% quantile", "median",
              "25%-50% quantile", "5%-25% quantile", "observed"]
    ax.legend(handles, labels, loc=loc, fontsize=8.8, labelspacing=0.55, frameon=True,
              framealpha=0.8, edgecolor="0.8", fancybox=True)
    ax.set_title(title)
    ax.set_ylabel(unit)
    style_axes(ax)


def flow_panel(ax, title, pairs):
    t, v = zip(*pairs)
    sns.lineplot(x=to_dates(t), y=list(v), ax=ax, color="black", lw=2, estimator=None)
    ax.set_title(title)
    ax.set_ylabel(r"[$m^3/s$]")
    style_axes(ax)


sns.set_theme(style="ticks")
plt.rcParams.update({
    "font.family": ["DejaVu Sans"],
    "xtick.labelsize": 11.3,
    "ytick.labelsize": 11.3,
    "axes.titlesize": 13.6,
    "axes.labelsize": 13,
    "axes.edgecolor": "0.2",
    "axes.linewidth": 1.0,
    "xtick.major.size": 4,
    "ytick.major.size": 4,
    "xtick.color": "black",
    "ytick.color": "black",
})

fig, axes = plt.subplots(5, 2, figsize=(11.11, 17.07), dpi=100)
fig.subplots_adjust(left=0.1044, right=0.999, top=0.9795, bottom=0.0141,
                    wspace=0.201, hspace=0.2)

kg = r"[$kg/m^2$]"
mg = r"[$mg/l$]"

quantile_panel(axes[0, 0], "Henares bed fragments", kg, hbfr_t, hbfr_q05, hbfr_q25, hbfr_q75,
               hbfr_q95, hbfr_t, hbfr_q50, hbfr_obs, "upper left")
quantile_panel(axes[0, 1], "Sorbe bed fragments", kg, sbfr_t, sbfr_q05, sbfr_q25, sbfr_q75,
               sbfr_q95, sbfr_t, sbfr_q50, sbfr_obs, "upper right")
quantile_panel(axes[1, 0], "Henares bed fibres", kg, hbfi_t, hbfi_q05, hbfi_q25, hbfi_q75,
               hbfi_q95, hbfi_t, hbfi_q50, hbfi_obs, "upper left")
quantile_panel(axes[1, 1], "Sorbe bed fibres", kg, sbfi_t, sbfi_q05, sbfi_q25, sbfi_q75,
               sbfi_q95, sbfi_t, sbfi_q50, sbfi_obs, "upper right")

t, v = zip(*hwfr_median)
quantile_panel(axes[2, 0], "Henares water fragments", mg, hwfr_t, hwfr_q05, hwfr_q25, hwfr_q75,
               hwfr_q95, t, v, hwfr_obs, "upper right", med_lw=2.2)
t, v = zip(*swfr_median)
quantile_panel(axes[2, 1], "Sorbe water fragments", mg, swfr_t, swfr_q05, swfr_q25, swfr_q75,
               swfr_q95, t, v, swfr_obs, "upper left", med_lw=2.2)
t, v = zip(*hwfi_median)
quantile_panel(axes[3, 0], "Henares water fibres", mg, hwfi_t, hwfi_q05, hwfi_q25, hwfi_q75,
               hwfi_q95, t, v, hwfi_obs, "upper left", med_lw=2.2)
t, v = zip(*swfi_median)
quantile_panel(axes[3, 1], "Sorbe water fibres", mg, swfi_t, swfi_q05, swfi_q25, swfi_q75,
               swfi_q95, t, v, swfi_obs, "upper left", med_lw=2.2)

flow_panel(axes[4, 0], "Henares river flow", henares_flow)
flow_panel(axes[4, 1], "Sorbe river flow", sorbe_flow)

fig.savefig("out.png", dpi=100)
